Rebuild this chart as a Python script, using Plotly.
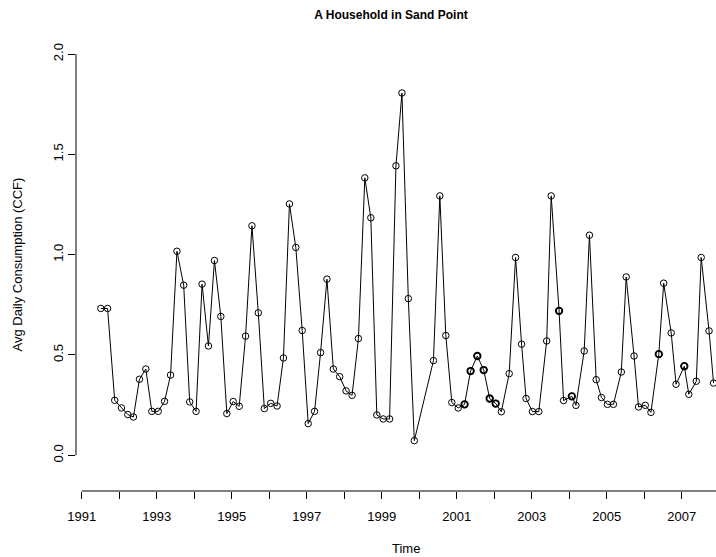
import plotly.graph_objects as go

# ---- data ----
times = [1991.51, 1991.69, 1991.88, 1992.06, 1992.23, 1992.38, 1992.54, 1992.71, 1992.87, 1993.04,
         1993.21, 1993.37, 1993.54, 1993.72, 1993.88, 1994.05, 1994.21, 1994.38, 1994.54, 1994.71,
         1994.87, 1995.04, 1995.20, 1995.37, 1995.54, 1995.71, 1995.87, 1996.04, 1996.21, 1996.38,
         1996.54, 1996.71, 1996.88, 1997.04, 1997.21, 1997.37, 1997.54, 1997.71, 1997.88, 1998.05,
         1998.21, 1998.38, 1998.55, 1998.71, 1998.87, 1999.04, 1999.21, 1999.38, 1999.54, 1999.71,
         1999.87, 2000.38, 2000.55, 2000.71, 2000.87, 2001.04, 2001.21, 2001.37, 2001.55, 2001.72,
         2001.88, 2002.04, 2002.19, 2002.40, 2002.57, 2002.73, 2002.85, 2003.02, 2003.19, 2003.40,
         2003.52, 2003.73, 2003.85, 2004.07, 2004.18, 2004.40, 2004.54, 2004.72, 2004.86, 2005.02,
         2005.18, 2005.39, 2005.52, 2005.73, 2005.85, 2006.03, 2006.18, 2006.39, 2006.52, 2006.72,
         2006.85, 2007.07, 2007.19, 2007.39, 2007.52, 2007.73, 2007.85]
consumption = [0.732, 0.732, 0.274, 0.236, 0.203, 0.191, 0.379, 0.430, 0.219, 0.219,
               0.269, 0.400, 1.017, 0.848, 0.266, 0.219, 0.853, 0.545, 0.971, 0.692,
               0.208, 0.268, 0.244, 0.594, 1.144, 0.710, 0.233, 0.259, 0.246, 0.485,
               1.253, 1.036, 0.622, 0.158, 0.219, 0.512, 0.878, 0.430, 0.392, 0.321,
               0.299, 0.582, 1.383, 1.184, 0.201, 0.181, 0.181, 1.443, 1.806, 0.781,
               0.073, 0.472, 1.293, 0.597, 0.263, 0.236, 0.254, 0.420, 0.495, 0.425,
               0.283, 0.258, 0.217, 0.407, 0.986, 0.554, 0.283, 0.218, 0.218, 0.570,
               1.293, 0.720, 0.273, 0.294, 0.249, 0.520, 1.097, 0.377, 0.288, 0.254,
               0.254, 0.415, 0.889, 0.495, 0.241, 0.249, 0.214, 0.504, 0.858, 0.610,
               0.354, 0.444, 0.304, 0.369, 0.986, 0.620, 0.360]

# readings that are recorded more than once (overplotted, look bold)
repeat_times = [2001.21, 2001.37, 2001.55, 2001.72, 2001.88, 2002.04, 2003.73, 2004.07, 2006.39, 2007.07]
repeat_values = [0.254, 0.420, 0.495, 0.425, 0.283, 0.258, 0.720, 0.294, 0.504, 0.444]

year_ticks = list(range(1991, 2009))
year_labels = [str(y) if y % 2 == 1 else "" for y in year_ticks]
y_ticks = [0.0, 0.5, 1.0, 1.5, 2.0]
y_labels = ["0.0", "0.5", "1.0", "1.5", "2.0"]

FONT = "Liberation Sans, Arial, Helvetica, sans-serif"

fig = go.Figure()
fig.add_trace(go.Scatter(
    x=times, y=consumption, mode="lines+markers",
    line=dict(color="black", width=1),
    marker=dict(symbol="circle-open", size=6.5, color="black", line=dict(width=1)),
    showlegend=False, hoverinfo="x+y"))
fig.add_trace(go.Scatter(
    x=repeat_times, y=repeat_values, mode="markers",
    marker=dict(symbol="circle-open", size=6.5, color="black", line=dict(width=1.8)),
    showlegend=False, hoverinfo="x+y"))

W, H = 716, 557
L, R, T = 76, 0, 38
B = H - 491
pw = W - L - R
ph = H - T - B

fig.update_layout(
    width=W, height=H,
    margin=dict(l=L, r=R, t=T, b=B),
    paper_bgcolor="white", plot_bgcolor="white",
    font=dict(family=FONT, size=13, color="black"),
    title=dict(text="<b>A Household in Sand Point</b>", font=dict(size=12, family=FONT, color="black"),
               xref="container", yref="container", x=391 / W, y=1 - 15 / H,
               xanchor="center", yanchor="middle"),
    xaxis=dict(range=[1990.848, 2007.915], tickmode="array", tickvals=year_ticks, ticktext=year_labels,
               ticks="outside", ticklen=7, tickwidth=1, tickcolor="black",
               showline=False, showgrid=False, zeroline=False, ticklabelstandoff=6,
               tickfont=dict(size=13, family=FONT, color="black")),
    yaxis=dict(range=[-0.178, 2.08], tickmode="array", tickvals=y_ticks, ticktext=y_labels,
               ticks="outside", ticklen=7, tickwidth=1, tickcolor="black", tickangle=-90,
               showline=False, showgrid=False, zeroline=False,
               tickfont=dict(size=13, family=FONT, color="black")),
    shapes=[
        dict(type="line", xref="paper", yref="y", x0=0, x1=0, y0=y_ticks[0], y1=y_ticks[-1],
             line=dict(color="black", width=1)),
        dict(type="line", xref="x", yref="paper", x0=year_ticks[0], x1=year_ticks[-1], y0=0, y1=0,
             line=dict(color="black", width=1)),
    ],
    annotations=[
        dict(text="Time", xref="paper", yref="paper", x=(406 - L) / pw, y=-(548 - 491) / ph,
             xanchor="center", yanchor="middle", showarrow=False, font=dict(size=13, family=FONT)),
        dict(text="Avg Daily Consumption (CCF)", xref="paper", yref="paper", x=(17 - L) / pw, y=0.5,
             xanchor="center", yanchor="middle", textangle=-90, showarrow=False,
             font=dict(size=13, family=FONT)),
    ],
)

# remove the page's default body margin so the figure fills the window exactly
fig.write_html("out.html",
               config={"displayModeBar": False},
               post_script="document.body.style.margin='0';document.body.style.overflow='hidden';")
